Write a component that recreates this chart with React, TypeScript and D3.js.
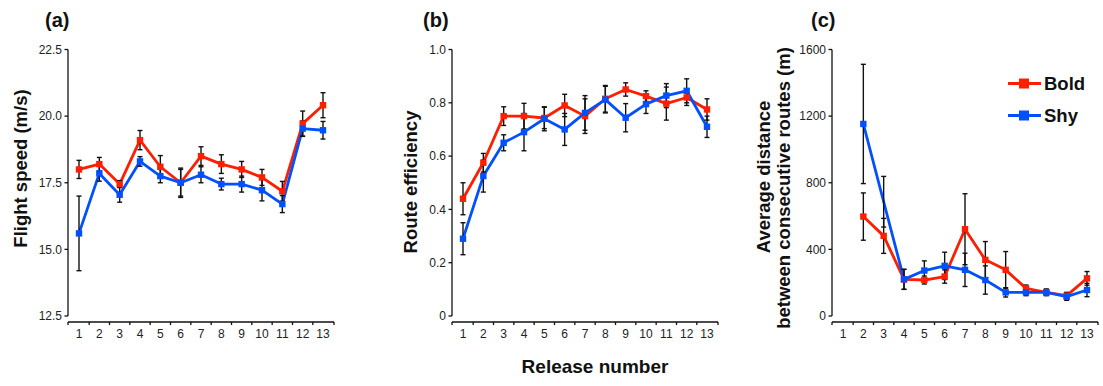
import React from "react";
import * as d3 from "d3";

const releases = [1, 2, 3, 4, 5, 6, 7, 8, 9, 10, 11, 12, 13];

const boldSpeed = [18.0, 18.2, 17.45, 19.1, 18.1, 17.5, 18.5, 18.2, 18.0, 17.7, 17.18, 19.72, 20.41];
const boldSpeedErr = [0.34, 0.25, 0.13, 0.36, 0.42, 0.5, 0.35, 0.35, 0.3, 0.3, 0.37, 0.47, 0.47];
const shySpeed = [15.6, 17.85, 17.05, 18.3, 17.75, 17.5, 17.8, 17.45, 17.45, 17.22, 16.7, 19.53, 19.47];
const shySpeedErr = [1.4, 0.29, 0.28, 0.18, 0.25, 0.55, 0.3, 0.22, 0.3, 0.4, 0.32, 0.29, 0.33];

const boldEff = [0.44, 0.575, 0.75, 0.75, 0.743, 0.79, 0.75, 0.815, 0.85, 0.825, 0.797, 0.82, 0.775];
const boldEffErr = [0.06, 0.035, 0.035, 0.048, 0.04, 0.042, 0.065, 0.05, 0.025, 0.02, 0.062, 0.03, 0.04];
const shyEff = [0.29, 0.525, 0.65, 0.69, 0.74, 0.7, 0.762, 0.812, 0.744, 0.795, 0.827, 0.845, 0.71];
const shyEffErr = [0.06, 0.06, 0.03, 0.07, 0.045, 0.06, 0.065, 0.05, 0.053, 0.035, 0.045, 0.045, 0.04];

const boldDist = [null, 597, 481, 220, 216, 237, 521, 337, 277, 166, 142, 122, 226];
const boldDistErr = [null, 142, 105, 60, 24, 40, 213, 110, 110, 20, 18, 20, 41];
const shyDist = [null, 1153, 686, 220, 273, 301, 277, 216, 142, 142, 142, 116, 156];
const shyDistErr = [null, 358, 152, 60, 58, 82, 100, 85, 28, 20, 20, 22, 40];
const shyDistNoMarker = [3];

const speedTicks = [12.5, 15.0, 17.5, 20.0, 22.5];
const effTicks = [0, 0.2, 0.4, 0.6, 0.8, 1.0];
const distTicks = [0, 400, 800, 1200, 1600];

const RED = "#ff1e00";
const BLUE = "#0050ff";
const FONT = "'Liberation Sans', Arial, Helvetica, sans-serif";

type Series = {
  values: (number | null)[];
  errs: (number | null)[];
  color: string;
  noMarker?: number[];
};

type PanelProps = {
  left: number;
  label: string;
  labelX: number;
  domain: [number, number];
  ticks: number[];
  tickFmt: (v: number) => string;
  yLabels: { text: string; x: number; y: number }[];
  series: Series[];
};

const TOP = 49.5;
const BOTTOM = 316;
const AXIS_LEN = 266;
const XAXIS_Y = 322;

function Panel(p: PanelProps) {
  const x0 = p.left;
  const x1 = p.left + AXIS_LEN;
  const x = d3.scalePoint<number>().domain(releases).range([x0 + 11, x1 - 11]);
  const y = d3.scaleLinear().domain(p.domain).range([BOTTOM, TOP]);
  const step = x.step();
  const tickXs = [x0, ...releases.slice(0, -1).map((r) => (x(r) as number) + step / 2), x1];

  return (
    <g>
      <text x={p.labelX} y={27} fontSize={20} fontWeight="bold" fontFamily={FONT} fill="#111">
        {p.label}
      </text>
      {p.yLabels.map((l, i) => (
        <text
          key={i}
          transform={`translate(${l.x},${l.y}) rotate(-90)`}
          textAnchor="middle"
          fontSize={18.5}
          fontWeight="bold"
          fontFamily={FONT}
          fill="#111"
        >
          {l.text}
        </text>
      ))}
      {/* y axis */}
      <line x1={x0} x2={x0} y1={TOP} y2={BOTTOM} stroke="#111" strokeWidth={1.3} />
      {p.ticks.map((t) => (
        <g key={t}>
          <line x1={x0 - 3.5} x2={x0} y1={y(t)} y2={y(t)} stroke="#111" strokeWidth={1.3} />
          <text
            x={x0 - 6}
            y={y(t)}
            dy="0.35em"
            textAnchor="end"
            fontSize={12}
            fontFamily={FONT}
            fill="#222"
          >
            {p.tickFmt(t)}
          </text>
        </g>
      ))}
      {/* x axis */}
      <line x1={x0} x2={x1} y1={XAXIS_Y} y2={XAXIS_Y} stroke="#111" strokeWidth={1.3} />
      {tickXs.map((tx, i) => (
        <line key={i} x1={tx} x2={tx} y1={XAXIS_Y} y2={XAXIS_Y + 3} stroke="#111" strokeWidth={1.3} />
      ))}
      {releases.map((r) => (
        <text
          key={r}
          x={x(r)}
          y={337.5}
          textAnchor="middle"
          fontSize={12}
          fontFamily={FONT}
          fill="#222"
        >
          {r}
        </text>
      ))}
      {/* lines */}
      {p.series.map((s, si) => {
        const pts = releases
          .map((r, i) => ({ r, v: s.values[i] }))
          .filter((d) => d.v !== null) as { r: number; v: number }[];
        const line = d3
          .line<{ r: number; v: number }>()
          .x((d) => x(d.r) as number)
          .y((d) => y(d.v));
        return (
          <path
            key={"l" + si}
            d={line(pts) || ""}
            fill="none"
            stroke={s.color}
            strokeWidth={2.8}
            strokeLinejoin="round"
          />
        );
      })}
      {/* error bars */}
      {p.series.map((s, si) =>
        releases.map((r, i) => {
          const v = s.values[i];
          const e = s.errs[i];
          if (v === null || e === null) return null;
          const cx = x(r) as number;
          return (
            <g key={"e" + si + "-" + i} stroke="#111" strokeWidth={1.4}>
              <line x1={cx} x2={cx} y1={y(v - e)} y2={y(v + e)} />
              <line x1={cx - 2.5} x2={cx + 2.5} y1={y(v - e)} y2={y(v - e)} />
              <line x1={cx - 2.5} x2={cx + 2.5} y1={y(v + e)} y2={y(v + e)} />
            </g>
          );
        })
      )}
      {/* markers */}
      {p.series.map((s, si) =>
        releases.map((r, i) => {
          const v = s.values[i];
          if (v === null) return null;
          if (s.noMarker && s.noMarker.includes(r)) return null;
          const cx = x(r) as number;
          return <rect key={"m" + si + "-" + i} x={cx - 3.2} y={y(v) - 3.2} width={6.4} height={6.4} fill={s.color} />;
        })
      )}
    </g>
  );
}

export default function App() {
  return (
    <svg
      width={1103}
      height={386}
      style={{ position: "absolute", left: 0, top: 0, background: "#fff" }}
    >
      <rect width={1103} height={386} fill="#fff" />
      <Panel
        left={68}
        label="(a)"
        labelX={45}
        domain={[12.5, 22.5]}
        ticks={speedTicks}
        tickFmt={(v) => v.toFixed(1)}
        yLabels={[{ text: "Flight speed (m/s)", x: 27, y: 168.5 }]}
        series={[
          { values: boldSpeed, errs: boldSpeedErr, color: RED },
          { values: shySpeed, errs: shySpeedErr, color: BLUE },
        ]}
      />
      <Panel
        left={452}
        label="(b)"
        labelX={423}
        domain={[0, 1]}
        ticks={effTicks}
        tickFmt={(v) => (v === 0 ? "0" : v.toFixed(1))}
        yLabels={[{ text: "Route efficiency", x: 417, y: 182 }]}
        series={[
          { values: boldEff, errs: boldEffErr, color: RED },
          { values: shyEff, errs: shyEffErr, color: BLUE },
        ]}
      />
      <Panel
        left={832}
        label="(c)"
        labelX={811}
        domain={[0, 1600]}
        ticks={distTicks}
        tickFmt={(v) => String(v)}
        yLabels={[
          { text: "Average distance", x: 770, y: 177 },
          { text: "between consecutive routes (m)", x: 790, y: 188 },
        ]}
        series={[
          { values: boldDist, errs: boldDistErr, color: RED },
          { values: shyDist, errs: shyDistErr, color: BLUE, noMarker: shyDistNoMarker },
        ]}
      />
      <text x={595} y={373} textAnchor="middle" fontSize={19} fontWeight="bold" fontFamily={FONT} fill="#111">
        Release number
      </text>
      {/* legend */}
      {[
        { name: "Bold", color: RED, y: 83.5 },
        { name: "Shy", color: BLUE, y: 115.5 },
      ].map((l) => (
        <g key={l.name}>
          <line x1={1008} x2={1041} y1={l.y} y2={l.y} stroke={l.color} strokeWidth={2.8} />
          <rect x={1019} y={l.y - 5} width={10} height={10} fill={l.color} />
          <text x={1044} y={l.y + 6.5} fontSize={18.5} fontWeight="bold" fontFamily={FONT} fill="#111">
            {l.name}
          </text>
        </g>
      ))}
    </svg>
  );
}
